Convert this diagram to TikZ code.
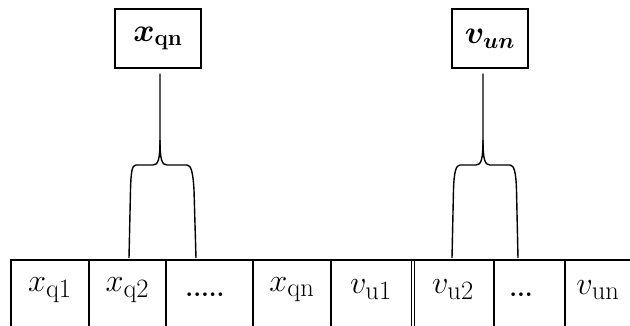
\documentclass[tikz,border=0pt]{standalone}
\usepackage{graphicx}
\usepackage{amsmath}
\usepackage{bm}
\newcommand{\bigt}[1]{\scalebox{1.3}{#1}}
\newcommand{\sbx}[1]{\scalebox{1.18}{$\scriptstyle\mathrm{#1}$}}
\begin{document}
\begin{tikzpicture}[x=1pt,y=-1pt,
  cellline/.style={line width=1.1pt},
  bracel/.style={line width=1.4pt},
  lbl/.style={inner sep=0pt,font=\fontsize{24}{28}\selectfont},
  dots/.style={inner sep=0pt,font=\fontsize{25}{30}\selectfont\bfseries},
  toplbl/.style={draw,line width=1.4pt,inner sep=0pt,font=\fontsize{24}{28}\selectfont}]
\useasboundingbox (0,0) rectangle (630,326);
\clip (0,0) rectangle (630,326);
% top boxes
\node[toplbl,minimum width=86pt,minimum height=59pt] (xqn) at (158,38.5) {\bigt{$\bm{x}_{\mathbf{qn}}$}};
\node[toplbl,minimum width=76pt,minimum height=59pt] (vun) at (490,38.5) {\bigt{$\bm{v}_{\bm{un}}$}};
% row lines
\draw[cellline] (11,340) -- (11,260) -- (640,260);
\foreach \xx in {89,166,253,331,494,565} \draw[cellline] (\xx,260) -- (\xx,340);
\draw[line width=0.8pt] (411,260) -- (411,340);
\draw[line width=0.8pt] (414,260) -- (414,340);
% cell labels
\node[lbl] (c1) at (50,290) {\bigt{$x_{\sbx{q1}}$}};
\node[lbl] (c2) at (127.5,290) {\bigt{$x_{\sbx{q2}}$}};
\node[dots] (c3) at (205,295) {.....};
\node[lbl] (c4) at (292,290) {\bigt{$x_{\sbx{qn}}$}};
\node[lbl] (c5) at (371,290) {\bigt{$v_{\sbx{u1}}$}};
\node[lbl] (c6) at (453,290) {\bigt{$v_{\sbx{u2}}$}};
\node[dots] (c7) at (521,295) {...};
\node[lbl] (c8) at (598,290) {\bigt{$v_{\sbx{un}}$}};
% brace apexes and end points
\coordinate (qa) at (160,140);
\coordinate (va) at (483,140);
\coordinate (l1) at (129,258);
\coordinate (l2) at (196,258);
\coordinate (r1) at (452,258);
\coordinate (r2) at (518,258);
% braces
\draw[bracel] ([yshift=-5pt]qa |- xqn.south) -- (qa) .. controls (160,160) and (158,165) .. (153,165) -- (136,165) .. controls (132,165) and (131,172) .. (130.5,190) -- (l1);
\draw[bracel] (qa) .. controls (160,160) and (162,165) .. (167,165) -- (187,165) .. controls (191,165) and (193,172) .. (194,190) -- (l2);
\draw[bracel] ([yshift=-5pt]va |- vun.south) -- (va) .. controls (483,160) and (481,165) .. (476,165) -- (460,165) .. controls (456,165) and (454,172) .. (453.5,190) -- (r1);
\draw[bracel] (va) .. controls (483,160) and (485,165) .. (490,165) -- (510,165) .. controls (514,165) and (516,172) .. (516.5,190) -- (r2);
\end{tikzpicture}
\end{document}
